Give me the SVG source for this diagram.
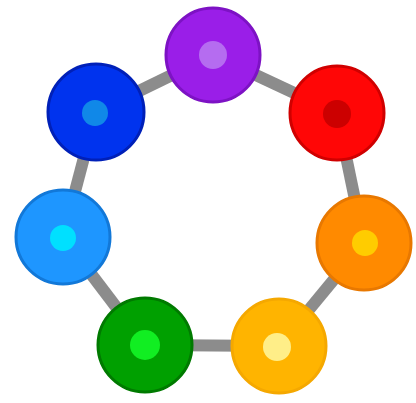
<svg xmlns="http://www.w3.org/2000/svg" width="416" height="403" viewBox="0 0 416 403">
<style>
.edge{stroke:#8c8c8c;stroke-width:12;fill:none}
.ring{stroke-width:3}
.dot{stroke:none}
</style>
<rect width="416" height="403" fill="#ffffff"/>
<g id="connectors">
<line class="edge" x1="213" y1="55" x2="337" y2="113"/>
<line class="edge" x1="337" y1="113" x2="364" y2="243"/>
<line class="edge" x1="364" y1="243" x2="279" y2="346"/>
<line class="edge" x1="279" y1="346" x2="145" y2="345"/>
<line class="edge" x1="145" y1="345" x2="63" y2="237"/>
<line class="edge" x1="63" y1="237" x2="96" y2="112"/>
<line class="edge" x1="96" y1="112" x2="213" y2="55"/>
</g>
<g id="node-purple"><circle class="ring" cx="213" cy="55" r="47" fill="#9a1ee8" stroke="#7d12c4"/><circle class="dot" cx="213" cy="55" r="14" fill="#b56cf0"/></g>
<g id="node-red"><circle class="ring" cx="337" cy="113" r="47" fill="#ff0606" stroke="#d00000"/><circle class="dot" cx="337" cy="114" r="14" fill="#cc0000"/></g>
<g id="node-orange"><circle class="ring" cx="364" cy="243" r="47" fill="#ff8a00" stroke="#e87800"/><circle class="dot" cx="365" cy="243" r="13" fill="#ffcc00"/></g>
<g id="node-yellow"><circle class="ring" cx="279" cy="346" r="47" fill="#ffb400" stroke="#f5a800"/><circle class="dot" cx="277" cy="347" r="14" fill="#ffee88"/></g>
<g id="node-green"><circle class="ring" cx="145" cy="345" r="47" fill="#00a000" stroke="#007a00"/><circle class="dot" cx="145" cy="345" r="15" fill="#11ee22"/></g>
<g id="node-lightblue"><circle class="ring" cx="63" cy="237" r="47" fill="#1e96ff" stroke="#1278d8"/><circle class="dot" cx="63" cy="238" r="13" fill="#00e0ff"/></g>
<g id="node-blue"><circle class="ring" cx="96" cy="112" r="48" fill="#0033ee" stroke="#0020b8"/><circle class="dot" cx="95" cy="113" r="13" fill="#1088e8"/></g>
</svg>
